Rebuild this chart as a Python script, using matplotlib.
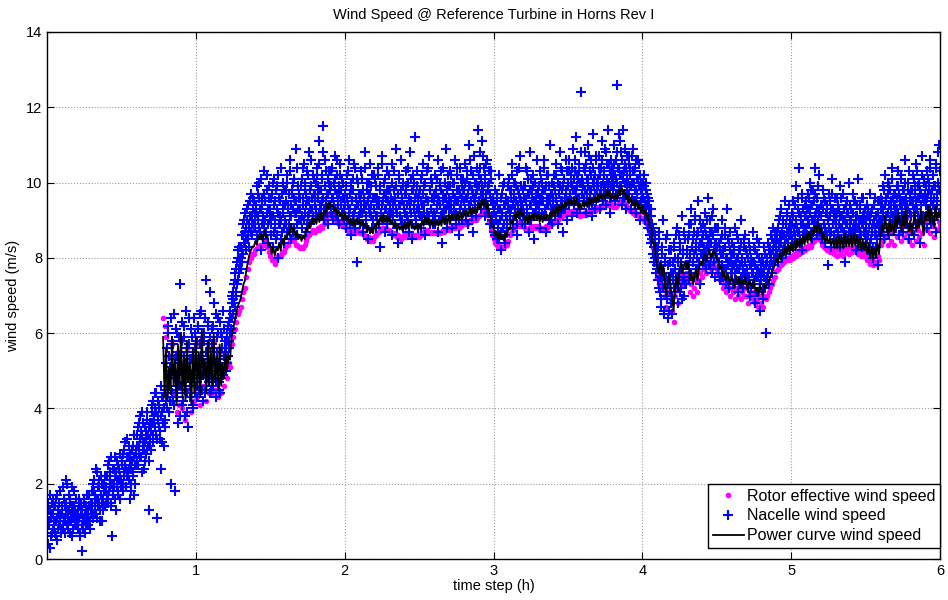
import numpy as np
import matplotlib
matplotlib.use("Agg")
import matplotlib.pyplot as plt

plt.rcParams['font.family'] = ['Liberation Sans', 'DejaVu Sans']

# power curve wind speed, every 0.01 h from 0.78 h to 6.0 h
power_curve = [
    5.9, 4.3,
    5.6, 4.2, 5.1, 4.4, 5.9, 4.6, 5.3, 4.1, 5.7, 4.5,
    6.0, 4.3, 5.4, 4.2, 5.8, 4.7, 5.2, 4.1, 5.6, 4.4,
    5.9, 4.5, 5.5, 4.3, 6.1, 4.8, 5.3, 4.4, 5.8, 4.6,
    5.6, 4.6, 6.0, 4.7, 5.4, 4.5, 5.7, 4.6, 5.2, 4.8,
    5.5, 5.0, 5.4, 5.3, 5.9, 6.1, 6.3, 6.5, 6.7, 6.8,
    6.9, 7.1, 7.3, 7.4, 7.7, 7.9, 8.1, 8.2, 8.3, 8.3,
    8.45, 8.35, 8.6, 8.5, 8.65, 8.45, 8.75, 8.55, 8.6, 8.35,
    8.35, 8.1, 8.3, 8.05, 8.25, 8.2, 8.4, 8.2, 8.5, 8.35,
    8.6, 8.5, 8.7, 8.6, 8.9, 8.7, 8.8, 8.55, 8.7, 8.5,
    8.6, 8.45, 8.6, 8.5, 8.8, 8.7, 8.95, 8.8, 9.05, 8.9,
    9.05, 8.9, 9.15, 8.95, 9.2, 9.0, 9.25, 9.15, 9.45, 9.3,
    9.5, 9.35, 9.4, 9.25, 9.35, 9.15, 9.25, 9.1, 9.2, 9.0,
    9.2, 9.0, 9.1, 8.9, 9.05, 8.85, 9.05, 8.85, 9.05, 8.9,
    9.0, 8.85, 9.0, 8.8, 8.9, 8.7, 8.85, 8.65, 8.8, 8.65,
    8.9, 8.75, 9.0, 8.85, 9.1, 8.95, 9.15, 8.95, 9.1, 8.95,
    9.1, 8.9, 9.0, 8.8, 8.95, 8.75, 8.9, 8.75, 8.85, 8.7,
    8.95, 8.75, 8.95, 8.8, 9.0, 8.8, 8.9, 8.75, 8.9, 8.75,
    8.9, 8.75, 9.0, 8.85, 9.1, 8.9, 9.05, 8.85, 9.0, 8.85,
    9.0, 8.85, 9.0, 8.85, 9.0, 8.85, 9.1, 8.9, 9.1, 8.9,
    9.15, 8.95, 9.15, 9.0, 9.15, 9.0, 9.2, 9.0, 9.2, 9.05,
    9.25, 9.1, 9.25, 9.1, 9.35, 9.15, 9.35, 9.2, 9.35, 9.2,
    9.45, 9.3, 9.55, 9.4, 9.55, 9.3, 9.5, 9.15, 9.1, 8.8,
    8.85, 8.6, 8.7, 8.5, 8.7, 8.5, 8.6, 8.45, 8.7, 8.55,
    8.8, 8.75, 9.0, 8.9, 9.15, 9.0, 9.25, 9.05, 9.3, 9.1,
    9.2, 8.95, 9.1, 8.9, 9.15, 9.0, 9.15, 9.0, 9.2, 9.0,
    9.15, 8.95, 9.15, 8.95, 9.15, 9.0, 9.15, 9.0, 9.2, 9.05,
    9.3, 9.1, 9.35, 9.15, 9.4, 9.25, 9.45, 9.3, 9.5, 9.35,
    9.55, 9.4, 9.55, 9.4, 9.6, 9.4, 9.6, 9.3, 9.45, 9.3,
    9.5, 9.35, 9.5, 9.35, 9.6, 9.4, 9.6, 9.45, 9.6, 9.45,
    9.7, 9.5, 9.7, 9.55, 9.7, 9.55, 9.8, 9.6, 9.8, 9.55,
    9.7, 9.55, 9.7, 9.55, 9.8, 9.65, 9.9, 9.7, 9.8, 9.55,
    9.7, 9.45, 9.6, 9.4, 9.55, 9.3, 9.55, 9.3, 9.45, 9.2,
    9.4, 9.15, 9.3, 9.05, 9.15, 8.8, 8.8, 8.4, 8.4, 8.0,
    7.8, 7.6, 7.9, 7.5, 7.8, 7.3, 7.0, 7.4, 7.6, 7.2,
    6.9, 6.6, 7.3, 7.5, 7.1, 7.7, 7.9, 7.6, 7.8, 7.9,
    7.7, 7.9, 7.4, 7.6, 7.3, 7.5, 7.7, 7.4, 7.7, 7.9,
    7.8, 8.0, 8.1, 7.9, 8.1, 8.2, 8.0, 8.1, 8.2, 8.05,
    8.0, 7.9, 7.7, 7.8, 7.5, 7.6, 7.4, 7.6, 7.5, 7.3,
    7.5, 7.4, 7.2, 7.5, 7.3, 7.5, 7.2, 7.4, 7.3, 7.5,
    7.3, 7.1, 7.4, 7.3, 7.2, 7.4, 7.1, 7.2, 7.0, 7.3,
    7.1, 7.0, 7.3, 7.2, 7.3, 7.4, 7.5, 7.6, 7.7, 7.8,
    8.0, 7.85, 8.1, 7.95, 8.2, 8.05, 8.3, 8.1, 8.35, 8.1,
    8.4, 8.2, 8.45, 8.2, 8.5, 8.3, 8.55, 8.3, 8.6, 8.35,
    8.65, 8.4, 8.7, 8.45, 8.75, 8.6, 8.85, 8.7, 8.95, 8.65,
    8.8, 8.5, 8.65, 8.4, 8.55, 8.4, 8.5, 8.35, 8.5, 8.25,
    8.55, 8.25, 8.6, 8.3, 8.55, 8.25, 8.65, 8.3, 8.6, 8.3,
    8.6, 8.3, 8.65, 8.35, 8.6, 8.25, 8.55, 8.2, 8.5, 8.2,
    8.45, 8.1, 8.4, 8.0, 8.3, 7.95, 8.25, 8.0, 8.4, 8.1,
    8.6, 8.9, 8.7, 9.1, 8.8, 8.6, 9.0, 8.7, 8.9, 8.6,
    9.1, 8.8, 9.2, 8.9, 8.7, 9.1, 8.8, 9.3, 8.9, 8.7,
    9.0, 8.6, 8.9, 9.2, 8.7, 9.0, 8.8, 9.3, 8.9, 8.6,
    9.2, 9.0, 9.4, 8.9, 9.3, 9.1, 8.8, 9.4, 9.0, 9.2,
    9.1,
]

# rotor effective wind speed, every 0.01 h from 0.78 h to 6.0 h
rotor_effective = [
    6.4, 6.2,
    5.9, 4.6, 5.4, 4.2, 5.7, 4.4, 5.0, 3.9, 5.5, 4.1,
    5.8, 4.0, 5.2, 3.7, 5.6, 4.5, 5.0, 3.9, 5.4, 4.2,
    5.7, 4.3, 5.3, 4.1, 5.9, 4.6, 5.1, 4.2, 5.6, 4.4,
    5.4, 4.4, 5.8, 4.5, 5.2, 4.3, 5.5, 4.4, 5.0, 4.6,
    5.3, 4.8, 5.2, 5.1, 5.7, 5.9, 6.1, 6.3, 6.5, 6.6,
    6.7, 6.9, 7.1, 7.2, 7.5, 7.7, 7.9, 8.0, 8.1, 8.1,
    8.2, 8.25, 8.3, 8.35, 8.3, 8.35, 8.45, 8.35, 8.3, 8.15,
    8.05, 7.95, 7.95, 7.85, 7.95, 8.05, 8.05, 8.05, 8.15, 8.15,
    8.25, 8.35, 8.35, 8.45, 8.55, 8.5, 8.45, 8.35, 8.35, 8.3,
    8.25, 8.3, 8.25, 8.35, 8.45, 8.55, 8.6, 8.65, 8.7, 8.75,
    8.7, 8.75, 8.8, 8.75, 8.85, 8.8, 8.9, 9.0, 9.1, 9.15,
    9.2, 9.15, 9.05, 9.1, 9.0, 8.95, 8.9, 8.95, 8.85, 8.85,
    8.9, 8.8, 8.75, 8.7, 8.75, 8.65, 8.7, 8.65, 8.75, 8.7,
    8.65, 8.7, 8.65, 8.6, 8.55, 8.5, 8.55, 8.45, 8.5, 8.45,
    8.55, 8.6, 8.65, 8.7, 8.75, 8.8, 8.8, 8.75, 8.8, 8.75,
    8.75, 8.7, 8.65, 8.6, 8.65, 8.55, 8.6, 8.55, 8.5, 8.55,
    8.6, 8.55, 8.65, 8.6, 8.65, 8.6, 8.55, 8.6, 8.55, 8.6,
    8.55, 8.6, 8.65, 8.7, 8.75, 8.75, 8.7, 8.65, 8.7, 8.65,
    8.7, 8.65, 8.65, 8.7, 8.65, 8.7, 8.75, 8.7, 8.75, 8.75,
    8.8, 8.75, 8.8, 8.85, 8.8, 8.85, 8.85, 8.8, 8.85, 8.9,
    8.9, 8.95, 8.9, 8.95, 9.0, 8.95, 9.0, 9.05, 9.0, 9.05,
    9.1, 9.15, 9.2, 9.25, 9.2, 9.15, 9.15, 8.95, 8.75, 8.6,
    8.5, 8.4, 8.35, 8.3, 8.35, 8.3, 8.25, 8.3, 8.35, 8.35,
    8.45, 8.6, 8.65, 8.75, 8.8, 8.85, 8.9, 8.85, 8.95, 8.9,
    8.85, 8.8, 8.75, 8.75, 8.8, 8.85, 8.8, 8.85, 8.8, 8.85,
    8.8, 8.75, 8.8, 8.75, 8.8, 8.85, 8.8, 8.85, 8.85, 8.9,
    8.95, 8.95, 9.0, 9.0, 9.05, 9.1, 9.1, 9.15, 9.15, 9.2,
    9.2, 9.25, 9.2, 9.25, 9.25, 9.2, 9.25, 9.15, 9.1, 9.15,
    9.15, 9.2, 9.15, 9.2, 9.25, 9.2, 9.25, 9.3, 9.25, 9.3,
    9.35, 9.3, 9.35, 9.4, 9.35, 9.4, 9.45, 9.4, 9.45, 9.4,
    9.35, 9.4, 9.35, 9.4, 9.45, 9.5, 9.55, 9.55, 9.45, 9.4,
    9.35, 9.3, 9.25, 9.25, 9.2, 9.15, 9.2, 9.15, 9.1, 9.05,
    9.05, 9.0, 8.95, 8.9, 8.8, 8.65, 8.45, 8.25, 8.05, 7.85,
    7.5, 7.3, 7.6, 7.2, 7.5, 7.0, 6.7, 7.1, 7.3, 6.9,
    6.6, 6.3, 7.0, 7.2, 6.8, 7.4, 7.6, 7.3, 7.5, 7.6,
    7.4, 7.6, 7.1, 7.3, 7.0, 7.2, 7.4, 7.1, 7.4, 7.6,
    7.5, 7.7, 7.8, 7.6, 7.8, 7.9, 7.7, 7.8, 7.9, 7.75,
    7.7, 7.6, 7.4, 7.5, 7.2, 7.3, 7.1, 7.3, 7.2, 7.0,
    7.2, 7.1, 6.9, 7.2, 7.0, 7.2, 6.9, 7.1, 7.0, 7.2,
    7.0, 6.8, 7.1, 7.0, 6.9, 7.1, 6.8, 6.9, 6.7, 7.0,
    6.8, 6.7, 7.0, 6.9, 7.0, 7.1, 7.2, 7.3, 7.4, 7.5,
    7.65, 7.7, 7.75, 7.8, 7.85, 7.9, 7.95, 7.95, 8.0, 7.95,
    8.05, 8.0, 8.1, 8.05, 8.15, 8.1, 8.2, 8.15, 8.25, 8.2,
    8.3, 8.25, 8.35, 8.3, 8.4, 8.45, 8.5, 8.55, 8.6, 8.5,
    8.45, 8.35, 8.3, 8.25, 8.2, 8.25, 8.15, 8.2, 8.15, 8.1,
    8.2, 8.05, 8.25, 8.1, 8.2, 8.05, 8.3, 8.15, 8.25, 8.1,
    8.25, 8.15, 8.3, 8.2, 8.25, 8.1, 8.2, 8.05, 8.15, 8.05,
    8.1, 7.95, 8.05, 7.85, 7.95, 7.8, 7.9, 7.85, 8.05, 7.95,
    8.35, 8.65, 8.45, 8.85, 8.55, 8.35, 8.75, 8.45, 8.65, 8.35,
    8.85, 8.55, 8.95, 8.65, 8.45, 8.85, 8.55, 9.05, 8.65, 8.45,
    8.75, 8.35, 8.65, 8.95, 8.45, 8.75, 8.55, 9.05, 8.65, 8.35,
    8.95, 8.75, 9.15, 8.65, 9.05, 8.85, 8.55, 9.15, 8.75, 8.95,
    8.85,
]

# nacelle wind speed, one row per 0.1 h (first pass of samples)
nacelle_a = [
    [1.1, 0.4, 1.3, 0.9, 1.7, 0.6, 1.2, 1.5, 0.8, 1.0, 1.4, 0.7, 1.6, 0.5, 1.1, 1.3, 0.9, 1.8, 1.2, 0.8],
    [1.4, 0.9, 1.9, 1.1, 0.7, 1.5, 1.2, 2.0, 0.8, 1.3, 1.0, 1.6, 1.2, 0.6, 1.4, 1.1, 1.8, 0.9, 1.3, 1.0],
    [0.9, 1.3, 1.0, 1.6, 0.7, 1.2, 1.4, 0.2, 1.1, 0.8, 1.5, 1.0, 1.3, 0.9, 1.7, 1.2, 1.0, 1.4, 0.8, 1.5],
    [1.3, 1.8, 1.1, 2.1, 1.5, 1.7, 1.2, 2.3, 1.6, 1.4, 1.9, 1.0, 1.7, 2.2, 1.5, 1.3, 1.8, 2.0, 1.4, 1.9],
    [1.7, 2.2, 1.5, 2.6, 1.9, 2.1, 1.4, 0.6, 2.4, 1.8, 2.0, 2.7, 1.6, 2.3, 1.9, 2.5, 1.7, 2.1, 2.8, 2.0],
    [2.1, 2.6, 1.8, 2.9, 2.3, 2.5, 1.9, 3.2, 2.2, 2.7, 2.4, 1.6, 2.8, 2.0, 2.6, 3.0, 2.3, 1.7, 2.5, 2.9],
    [2.8, 3.3, 2.5, 3.6, 3.0, 2.7, 3.4, 2.3, 3.9, 3.1, 2.9, 3.5, 2.6, 3.2, 3.7, 2.9, 3.3, 1.3, 3.0, 3.6],
    [3.4, 3.9, 3.1, 4.2, 3.6, 4.0, 3.3, 4.4, 1.1, 3.8, 3.5, 4.1, 3.2, 2.4, 3.9, 4.3, 3.6, 3.0, 4.5, 3.7],
    [4.3, 5.6, 4.8, 6.2, 3.9, 5.1, 4.5, 2.0, 5.8, 4.2, 6.5, 4.9, 1.8, 5.4, 4.4, 6.0, 3.6, 5.2, 4.7, 7.3],
    [5.5, 4.1, 6.3, 4.7, 5.9, 3.8, 5.2, 6.6, 4.4, 5.0, 3.5, 5.7, 4.6, 6.1, 4.9, 5.3, 4.0, 6.4, 4.8, 5.6],
    [4.6, 5.8, 4.3, 6.2, 5.1, 4.8, 6.5, 5.4, 4.5, 5.9, 4.9, 6.0, 4.4, 5.5, 7.4, 5.0, 6.3, 4.7, 5.7, 7.1],
    [5.2, 4.5, 6.1, 5.6, 4.8, 6.8, 5.0, 4.3, 5.9, 5.3, 6.4, 4.7, 5.5, 4.4, 6.0, 5.1, 4.9, 6.6, 5.4, 5.8],
    [5.6, 5.0, 6.0, 5.4, 6.3, 5.8, 6.6, 6.1, 7.0, 6.4, 6.9, 7.3, 6.7, 7.6, 7.1, 7.9, 7.4, 8.2, 7.6, 8.0],
    [7.7, 8.3, 7.9, 8.6, 8.1, 9.0, 8.4, 8.8, 8.2, 9.3, 8.5, 8.9, 8.3, 9.5, 8.7, 9.1, 8.6, 9.6, 8.9, 9.2],
    [8.8, 9.4, 8.5, 9.7, 9.0, 10.0, 8.7, 9.3, 8.2, 9.6, 9.1, 10.3, 8.9, 9.5, 8.6, 9.8, 9.2, 8.4, 9.9, 9.0],
    [9.3, 8.6, 9.7, 8.3, 9.1, 10.1, 8.8, 9.5, 8.5, 9.9, 9.2, 8.0, 9.6, 8.9, 10.4, 9.0, 8.7, 9.4, 8.4, 9.8],
    [9.0, 9.8, 8.7, 10.2, 9.4, 8.9, 10.6, 9.1, 8.5, 9.7, 9.3, 10.0, 8.8, 9.5, 10.9, 9.2, 8.6, 9.9, 9.0, 9.6],
    [9.6, 9.0, 10.1, 8.8, 9.4, 10.5, 9.2, 9.8, 8.7, 10.3, 9.5, 9.1, 10.8, 9.3, 8.9, 9.9, 9.6, 10.2, 9.0, 9.7],
    [9.4, 10.0, 9.1, 10.4, 9.7, 9.2, 11.1, 9.8, 9.3, 10.2, 9.5, 11.5, 9.0, 9.9, 10.6, 9.4, 9.7, 10.1, 8.9, 10.3],
    [9.8, 9.2, 10.3, 9.6, 9.0, 10.0, 9.4, 10.7, 9.1, 9.7, 10.2, 9.3, 8.9, 9.9, 10.5, 9.5, 9.2, 10.1, 9.6, 9.0],
    [9.1, 9.7, 8.8, 10.2, 9.4, 9.0, 10.6, 9.3, 8.6, 9.8, 9.5, 10.1, 8.9, 9.2, 10.4, 9.6, 7.9, 9.4, 10.0, 9.1],
    [9.6, 8.9, 10.3, 9.2, 9.8, 8.7, 9.5, 10.8, 9.0, 9.4, 10.0, 8.5, 9.7, 9.3, 10.5, 9.1, 9.9, 8.8, 9.6, 10.2],
    [9.3, 10.1, 8.8, 9.6, 9.1, 10.4, 9.4, 8.3, 9.9, 9.2, 10.7, 9.5, 9.0, 10.0, 8.7, 9.7, 9.3, 10.3, 9.1, 9.8],
    [10.2, 9.0, 9.6, 8.6, 10.5, 9.3, 9.8, 8.9, 9.5, 10.9, 9.2, 9.7, 8.4, 10.1, 9.4, 9.0, 10.6, 9.6, 8.8, 9.9],
    [9.4, 8.9, 10.3, 9.7, 9.1, 10.0, 8.7, 9.5, 10.8, 9.2, 9.8, 8.5, 10.2, 9.3, 9.6, 11.2, 9.0, 9.9, 8.8, 9.5],
    [9.7, 9.1, 10.1, 8.8, 9.4, 10.5, 9.2, 9.9, 8.6, 9.6, 10.3, 9.0, 9.5, 10.7, 8.9, 9.8, 9.3, 10.0, 9.1, 9.6],
    [9.2, 10.2, 8.9, 9.7, 9.4, 10.6, 8.7, 9.5, 10.0, 9.1, 9.8, 8.4, 10.4, 9.3, 9.6, 9.0, 10.9, 9.4, 8.8, 9.9],
    [9.6, 9.0, 10.3, 9.3, 8.8, 10.0, 9.7, 9.2, 10.6, 8.9, 9.5, 10.2, 9.1, 9.8, 8.6, 10.4, 9.4, 9.9, 9.0, 10.1],
    [9.8, 9.3, 10.5, 9.0, 10.1, 9.6, 8.9, 11.0, 9.4, 9.9, 10.3, 9.2, 9.7, 8.7, 10.7, 9.5, 10.0, 9.1, 9.8, 11.4],
    [10.2, 9.5, 10.8, 9.3, 9.9, 11.1, 9.6, 10.4, 9.1, 10.0, 9.7, 10.6, 9.2, 9.8, 10.3, 8.9, 9.5, 10.1, 9.0, 9.4],
    [9.2, 8.7, 9.8, 9.0, 8.5, 9.5, 8.9, 10.2, 8.6, 9.3, 8.2, 9.7, 9.1, 8.8, 10.0, 9.4, 8.4, 9.6, 9.0, 9.9],
    [9.5, 10.1, 9.0, 9.8, 9.3, 10.5, 8.8, 9.6, 10.0, 9.2, 9.9, 8.6, 10.3, 9.4, 9.7, 9.1, 10.7, 9.5, 8.9, 9.8],
    [9.3, 9.9, 8.9, 10.4, 9.6, 9.1, 10.1, 8.7, 9.7, 10.8, 9.4, 9.0, 9.8, 10.2, 9.2, 8.5, 10.0, 9.5, 9.1, 10.6],
    [9.7, 9.2, 10.3, 8.8, 9.5, 10.0, 9.1, 9.8, 10.6, 9.3, 8.7, 9.9, 9.4, 10.2, 9.0, 9.6, 11.0, 9.3, 8.9, 9.7],
    [9.6, 10.2, 9.1, 9.8, 10.5, 9.4, 8.9, 10.0, 9.7, 10.8, 9.2, 9.5, 10.3, 8.7, 9.9, 10.1, 9.3, 10.6, 9.6, 9.0],
    [10.0, 9.4, 10.6, 9.7, 10.2, 9.1, 9.9, 10.9, 9.5, 10.3, 9.8, 11.2, 9.2, 10.1, 9.6, 10.5, 9.3, 10.0, 12.4, 9.7],
    [9.9, 10.4, 9.5, 10.8, 9.2, 10.1, 9.7, 11.0, 9.4, 10.3, 9.8, 10.6, 9.1, 10.0, 11.3, 9.6, 10.2, 9.3, 10.7, 9.9],
    [10.1, 9.6, 10.7, 9.3, 10.4, 9.9, 11.1, 9.5, 10.2, 9.8, 10.9, 9.4, 10.5, 10.0, 11.4, 9.7, 10.3, 9.2, 10.6, 10.0],
    [10.3, 9.8, 11.0, 9.5, 10.6, 10.1, 12.6, 9.7, 10.4, 11.3, 9.9, 10.8, 9.4, 10.2, 11.4, 9.6, 10.5, 10.0, 9.3, 10.7],
    [10.2, 9.6, 10.7, 9.9, 10.4, 9.3, 10.0, 10.9, 9.5, 10.3, 9.8, 9.2, 10.6, 9.7, 10.1, 9.4, 10.5, 9.0, 9.8, 9.6],
    [9.8, 9.3, 10.2, 9.5, 9.0, 10.0, 9.4, 8.8, 9.6, 9.1, 8.6, 9.3, 8.4, 8.9, 8.1, 8.7, 7.9, 8.4, 7.6, 8.2],
    [7.7, 8.3, 7.2, 8.7, 7.5, 6.9, 8.1, 7.4, 9.0, 6.6, 7.9, 7.3, 8.5, 7.0, 6.4, 7.8, 8.2, 7.1, 7.6, 6.8],
    [6.5, 7.6, 8.4, 7.2, 8.0, 7.5, 8.8, 7.3, 7.9, 8.6, 7.1, 8.2, 7.7, 9.1, 7.4, 8.1, 7.0, 8.5, 7.8, 7.3],
    [7.8, 8.5, 7.4, 8.9, 8.1, 7.6, 9.3, 8.3, 7.9, 8.7, 7.5, 9.0, 8.2, 7.7, 8.6, 9.5, 7.9, 8.4, 7.3, 8.8],
    [8.4, 7.9, 8.9, 8.1, 9.2, 7.7, 8.6, 8.3, 9.6, 7.8, 8.5, 9.0, 8.0, 8.7, 7.6, 9.3, 8.2, 8.8, 7.5, 8.4],
    [8.3, 7.6, 8.8, 7.9, 7.4, 8.5, 8.1, 9.0, 7.5, 8.2, 7.7, 8.6, 7.3, 8.0, 9.3, 7.8, 8.4, 7.2, 8.7, 7.9],
    [7.8, 8.4, 7.3, 8.1, 7.6, 8.8, 7.4, 8.0, 7.1, 8.5, 7.7, 8.2, 7.5, 9.0, 7.9, 7.2, 8.3, 7.6, 8.6, 7.4],
    [7.5, 8.1, 7.2, 8.4, 7.8, 7.0, 8.0, 7.6, 8.7, 7.3, 7.9, 6.8, 8.2, 7.5, 8.5, 7.7, 7.1, 8.0, 6.6, 7.8],
    [7.4, 8.0, 6.9, 7.7, 8.3, 7.2, 6.0, 7.9, 7.5, 8.4, 7.3, 8.1, 7.8, 8.6, 7.6, 8.2, 8.8, 7.9, 8.5, 8.1],
    [8.2, 8.7, 7.9, 9.0, 8.4, 8.1, 9.3, 8.6, 8.0, 8.9, 8.3, 9.5, 8.5, 8.1, 9.1, 8.7, 8.4, 9.4, 8.8, 8.2],
    [8.6, 9.2, 8.3, 9.5, 8.8, 8.5, 9.9, 8.9, 8.4, 9.3, 8.7, 10.4, 8.5, 9.1, 8.2, 9.6, 8.9, 8.6, 9.4, 8.8],
    [9.1, 8.6, 9.7, 8.9, 9.3, 10.0, 8.7, 9.4, 8.5, 9.8, 9.0, 8.8, 10.4, 9.2, 8.6, 9.6, 8.9, 10.2, 9.3, 8.7],
    [8.8, 9.4, 8.5, 9.8, 8.9, 8.4, 9.5, 8.7, 9.2, 7.8, 9.0, 9.7, 8.6, 9.3, 8.3, 10.1, 8.9, 9.1, 8.5, 9.6],
    [9.0, 8.5, 9.6, 8.7, 9.3, 8.3, 9.9, 8.8, 9.1, 8.4, 9.7, 8.6, 7.9, 9.4, 8.9, 9.2, 8.5, 10.0, 8.7, 9.0],
    [8.7, 9.3, 8.4, 9.7, 8.9, 8.6, 9.5, 8.2, 9.1, 8.8, 10.1, 8.5, 9.4, 8.7, 9.0, 8.3, 9.6, 8.9, 9.2, 8.6],
    [8.9, 8.4, 9.4, 8.6, 9.1, 8.2, 9.7, 8.5, 8.8, 9.3, 8.0, 9.0, 8.6, 9.6, 8.3, 8.9, 7.8, 9.2, 8.7, 9.5],
    [9.0, 9.6, 8.7, 9.9, 9.3, 8.5, 10.2, 9.1, 9.5, 8.8, 10.0, 9.4, 8.6, 9.8, 9.2, 10.4, 8.9, 9.6, 9.0, 9.7],
    [9.4, 8.8, 9.9, 9.2, 10.3, 8.6, 9.6, 9.0, 10.1, 9.3, 8.7, 9.8, 9.5, 10.6, 8.9, 9.4, 9.1, 10.0, 8.5, 9.7],
    [9.2, 9.8, 8.8, 10.2, 9.5, 8.6, 9.9, 9.3, 10.5, 8.9, 9.6, 9.1, 10.0, 8.4, 9.7, 9.4, 10.7, 9.0, 9.5, 10.1],
    [9.6, 9.1, 10.3, 8.8, 9.7, 10.0, 9.3, 10.6, 8.9, 9.8, 9.4, 10.2, 9.0, 9.9, 10.4, 8.7, 9.5, 10.8, 9.2, 11.0],
]

# nacelle wind speed, samples in between (offset by half a step)
nacelle_b = [
    [0.8, 1.5, 1.0, 0.3, 1.3, 1.1, 0.7, 1.6, 1.2, 0.9, 1.4, 0.6, 1.0, 1.7, 0.8, 1.2, 1.5, 1.0, 0.7, 1.3],
    [1.2, 0.8, 1.6, 1.0, 1.4, 2.1, 0.9, 1.3, 1.1, 1.7, 0.7, 1.5, 1.0, 1.9, 1.2, 0.8, 1.4, 1.1, 1.6, 0.9],
    [1.2, 0.8, 1.4, 1.1, 0.6, 1.5, 0.9, 1.3, 1.0, 1.6, 1.2, 0.7, 1.4, 1.1, 0.9, 1.3, 1.7, 1.0, 1.2, 1.4],
    [1.5, 2.0, 1.2, 1.8, 1.4, 2.4, 1.6, 1.1, 1.9, 1.5, 2.1, 1.3, 1.7, 1.0, 2.0, 1.6, 1.4, 2.2, 1.8, 1.5],
    [2.2, 1.6, 2.5, 1.8, 2.3, 1.5, 2.7, 2.0, 1.7, 2.4, 1.9, 2.2, 1.3, 2.6, 2.1, 1.8, 2.4, 1.6, 2.2, 1.9],
    [2.5, 2.0, 2.8, 2.2, 3.1, 2.4, 1.9, 2.7, 2.3, 3.0, 2.1, 2.6, 2.4, 1.8, 2.9, 2.2, 2.7, 3.3, 2.0, 2.5],
    [3.0, 2.6, 3.5, 2.8, 3.2, 3.8, 2.7, 3.3, 2.9, 3.6, 2.4, 3.1, 3.4, 2.8, 3.9, 3.0, 2.6, 3.5, 3.2, 2.9],
    [3.6, 4.1, 3.3, 3.8, 4.4, 3.5, 3.9, 3.2, 4.2, 3.7, 4.0, 3.4, 4.6, 3.8, 3.1, 4.3, 3.6, 4.0, 3.5, 4.2],
    [5.2, 4.0, 6.0, 4.6, 5.4, 4.2, 6.4, 5.0, 4.4, 5.7, 4.1, 5.3, 4.8, 6.1, 4.3, 5.5, 4.6, 5.9, 3.8, 5.0],
    [4.6, 5.8, 4.2, 5.4, 6.2, 4.5, 5.1, 3.9, 5.6, 4.8, 6.4, 4.3, 5.3, 4.7, 5.9, 4.1, 5.5, 4.9, 6.0, 4.4],
    [5.4, 4.7, 6.1, 5.0, 4.5, 5.7, 6.6, 4.9, 5.3, 4.2, 5.8, 5.1, 6.4, 4.6, 5.5, 4.8, 6.2, 5.2, 4.4, 5.9],
    [4.9, 5.7, 4.6, 6.2, 5.3, 5.0, 6.5, 4.7, 5.5, 6.0, 4.5, 5.2, 6.3, 4.8, 5.6, 5.9, 5.0, 6.1, 5.3, 5.6],
    [5.3, 5.8, 5.2, 6.2, 5.6, 6.0, 6.4, 6.0, 6.8, 6.5, 7.1, 6.8, 7.4, 7.0, 7.7, 7.3, 8.0, 7.7, 8.3, 7.9],
    [8.0, 8.6, 8.2, 8.9, 8.4, 8.7, 9.2, 8.5, 9.0, 8.6, 9.4, 8.8, 9.1, 8.7, 9.7, 8.9, 9.3, 8.8, 9.5, 9.0],
    [9.2, 8.6, 9.9, 9.1, 8.8, 9.6, 9.3, 10.1, 8.9, 9.4, 8.5, 9.7, 9.0, 9.5, 8.7, 10.2, 9.3, 8.9, 9.6, 9.2],
    [8.9, 9.6, 9.1, 10.0, 8.7, 9.4, 9.0, 9.8, 8.6, 9.3, 10.2, 8.9, 9.5, 9.1, 8.5, 9.7, 9.2, 10.0, 8.8, 9.4],
    [9.5, 8.9, 10.0, 9.3, 9.7, 8.8, 10.3, 9.4, 9.1, 9.8, 8.7, 9.6, 10.1, 9.2, 9.5, 8.9, 10.4, 9.3, 9.7, 9.0],
    [9.3, 9.9, 9.1, 10.4, 9.6, 9.0, 10.0, 9.4, 9.7, 8.9, 10.2, 9.5, 9.2, 9.8, 10.6, 9.3, 9.6, 9.1, 10.1, 9.5],
    [9.7, 9.3, 10.2, 9.6, 9.9, 10.5, 9.4, 9.8, 9.1, 10.1, 9.6, 10.8, 9.3, 9.9, 9.5, 10.3, 9.2, 9.7, 10.0, 9.4],
    [9.4, 9.9, 9.1, 10.4, 9.6, 9.3, 10.1, 9.8, 9.2, 10.6, 9.5, 9.0, 9.7, 10.2, 9.4, 9.8, 9.1, 10.0, 9.6, 9.3],
    [9.4, 9.9, 9.0, 9.6, 10.3, 9.2, 9.7, 8.9, 10.0, 9.5, 9.1, 9.8, 10.5, 9.3, 8.8, 9.6, 10.1, 9.4, 9.0, 9.7],
    [9.2, 9.7, 9.4, 10.1, 8.9, 9.6, 9.3, 10.4, 9.1, 9.8, 8.8, 9.5, 10.0, 9.2, 9.7, 9.4, 10.2, 9.0, 9.6, 9.3],
    [9.6, 9.1, 9.9, 9.4, 10.2, 8.9, 9.5, 9.8, 9.2, 10.5, 9.4, 9.0, 9.7, 9.3, 10.1, 9.6, 8.9, 9.8, 9.5, 9.2],
    [9.4, 9.8, 9.2, 10.0, 9.5, 9.1, 10.3, 9.6, 9.3, 9.9, 8.8, 9.7, 9.4, 10.2, 9.1, 9.8, 9.5, 9.0, 10.0, 9.3],
    [9.7, 9.2, 9.9, 9.4, 10.4, 9.0, 9.6, 9.3, 10.1, 9.5, 8.9, 9.8, 9.4, 10.0, 9.1, 9.7, 9.3, 10.3, 9.6, 9.2],
    [9.3, 9.8, 9.5, 10.2, 9.1, 9.7, 9.4, 9.0, 10.0, 9.6, 9.2, 10.4, 9.5, 9.1, 9.8, 9.3, 10.1, 9.6, 8.9, 9.7],
    [9.5, 9.1, 9.8, 9.3, 10.1, 9.6, 9.0, 9.9, 9.4, 10.3, 9.2, 9.7, 9.5, 9.1, 10.0, 9.6, 9.3, 9.8, 10.2, 9.4],
    [9.3, 9.9, 9.5, 10.2, 9.1, 9.7, 9.4, 10.0, 9.6, 9.2, 9.8, 10.4, 9.5, 9.0, 9.7, 9.3, 10.1, 9.6, 9.2, 9.8],
    [9.5, 10.0, 9.6, 9.2, 10.3, 9.7, 9.4, 9.9, 10.6, 9.5, 9.1, 9.8, 10.2, 9.6, 9.3, 10.0, 9.7, 10.4, 9.4, 9.9],
    [9.9, 10.4, 9.7, 10.1, 9.5, 10.7, 9.8, 9.4, 10.2, 9.6, 10.5, 9.3, 9.9, 10.0, 9.2, 9.7, 10.3, 9.5, 9.1, 9.6],
    [8.9, 9.4, 8.6, 9.1, 9.7, 8.8, 9.3, 8.5, 9.0, 9.6, 8.7, 9.2, 9.9, 8.9, 9.4, 8.6, 9.1, 9.5, 8.8, 9.3],
    [9.3, 9.8, 9.1, 9.6, 10.2, 9.4, 9.0, 9.7, 9.3, 10.0, 9.5, 8.9, 9.8, 9.2, 10.4, 9.6, 9.3, 9.9, 9.4, 9.1],
    [9.6, 9.2, 9.9, 9.5, 10.3, 9.3, 9.7, 9.0, 9.8, 9.4, 10.1, 9.6, 9.2, 9.9, 9.5, 10.0, 9.3, 9.7, 9.4, 9.8],
    [9.4, 9.9, 9.6, 10.1, 9.2, 9.7, 9.5, 10.4, 9.3, 9.8, 9.1, 9.6, 10.2, 9.4, 9.9, 9.5, 9.0, 9.7, 10.0, 9.4],
    [9.5, 9.9, 9.3, 10.2, 9.6, 9.4, 10.0, 9.7, 9.2, 9.9, 10.4, 9.5, 9.8, 9.3, 10.1, 9.6, 9.4, 9.8, 10.3, 9.5],
    [9.9, 10.3, 9.6, 10.0, 9.5, 10.4, 9.8, 10.1, 9.4, 10.6, 9.7, 10.2, 9.9, 9.5, 10.3, 9.6, 10.0, 10.8, 9.7, 10.1],
    [10.0, 9.6, 10.3, 9.8, 10.5, 9.5, 10.1, 9.9, 10.7, 9.6, 10.2, 9.8, 9.4, 10.4, 9.9, 10.1, 9.7, 10.6, 9.8, 10.0],
    [9.9, 10.4, 9.7, 10.2, 9.8, 10.6, 10.0, 9.6, 10.3, 9.9, 10.8, 9.7, 10.1, 9.8, 10.5, 10.0, 9.6, 10.2, 9.9, 10.4],
    [10.1, 9.9, 10.5, 10.2, 9.7, 10.8, 10.0, 10.4, 9.8, 11.1, 10.2, 9.9, 10.6, 10.1, 9.6, 10.3, 10.9, 10.0, 10.4, 9.8],
    [10.0, 10.5, 9.7, 10.2, 9.9, 10.7, 9.6, 10.3, 10.0, 9.5, 10.4, 9.8, 10.1, 9.4, 10.6, 9.9, 10.2, 9.5, 10.0, 9.7],
    [10.0, 9.6, 9.9, 9.4, 9.8, 9.2, 9.7, 9.0, 9.5, 9.3, 8.9, 9.1, 8.7, 8.5, 8.8, 8.3, 8.6, 8.0, 8.3, 7.8],
    [8.0, 7.4, 8.5, 7.1, 7.8, 6.7, 8.3, 7.2, 7.6, 6.5, 8.0, 7.5, 6.9, 8.6, 7.3, 6.6, 7.9, 7.4, 8.2, 7.0],
    [7.9, 7.4, 8.3, 7.1, 7.7, 8.6, 7.5, 6.8, 8.0, 7.6, 8.4, 7.2, 7.9, 6.9, 8.2, 7.5, 8.7, 7.3, 7.8, 8.1],
    [8.2, 7.8, 8.6, 8.0, 7.6, 8.9, 8.3, 7.9, 8.5, 8.1, 9.1, 7.7, 8.4, 8.0, 8.7, 7.8, 8.3, 9.0, 8.1, 8.5],
    [8.1, 8.6, 8.3, 7.9, 8.8, 8.2, 9.0, 8.0, 8.5, 8.3, 7.8, 8.7, 8.4, 9.1, 8.1, 8.6, 7.9, 8.4, 8.8, 8.2],
    [8.0, 7.7, 8.4, 7.9, 8.2, 7.5, 8.6, 7.8, 8.1, 7.6, 8.3, 8.8, 7.7, 8.0, 7.4, 8.5, 7.9, 8.2, 7.6, 8.1],
    [7.6, 8.1, 7.8, 8.3, 7.4, 7.9, 8.6, 7.7, 8.0, 7.3, 8.2, 7.8, 8.4, 7.5, 8.0, 7.7, 8.5, 7.6, 7.9, 8.2],
    [7.7, 7.3, 8.0, 7.5, 8.2, 7.8, 7.2, 7.9, 7.6, 8.3, 7.4, 7.8, 7.1, 8.1, 7.7, 7.5, 8.4, 7.6, 7.3, 7.9],
    [7.6, 7.2, 7.9, 7.5, 8.1, 7.4, 7.8, 8.0, 7.6, 8.2, 7.7, 8.3, 7.9, 8.1, 8.5, 7.8, 8.4, 8.0, 8.7, 8.3],
    [8.5, 8.1, 8.8, 8.3, 8.6, 9.1, 8.4, 8.7, 8.2, 9.0, 8.6, 8.3, 8.9, 8.5, 9.2, 8.4, 8.8, 8.6, 9.0, 8.7],
    [8.9, 8.5, 9.1, 8.7, 9.4, 8.6, 9.0, 8.8, 9.6, 8.7, 9.2, 8.4, 9.0, 8.9, 9.7, 8.6, 9.3, 8.8, 9.1, 9.5],
    [8.8, 9.3, 9.0, 9.6, 8.9, 9.2, 9.8, 9.0, 9.4, 8.7, 9.5, 9.1, 9.7, 8.9, 9.3, 9.0, 9.9, 9.2, 8.8, 9.4],
    [9.1, 8.7, 9.3, 8.9, 9.6, 8.8, 9.2, 8.6, 9.4, 9.0, 8.8, 9.5, 9.1, 8.7, 9.7, 8.9, 9.3, 8.6, 9.0, 9.2],
    [8.8, 9.2, 8.6, 9.4, 8.9, 9.1, 8.5, 9.6, 8.8, 9.0, 8.7, 9.3, 9.0, 8.6, 9.5, 8.9, 9.2, 8.7, 9.4, 8.8],
    [9.0, 8.6, 9.2, 8.8, 9.5, 8.7, 9.1, 8.9, 9.4, 8.5, 9.0, 8.8, 9.3, 8.6, 9.6, 8.9, 9.1, 8.7, 9.3, 9.0],
    [8.7, 9.1, 8.5, 9.3, 8.8, 9.0, 8.4, 9.2, 8.7, 8.9, 8.3, 9.4, 8.8, 8.6, 9.1, 8.5, 9.5, 8.9, 9.0, 8.8],
    [9.3, 8.9, 9.5, 9.1, 9.8, 9.0, 9.4, 9.6, 8.8, 9.7, 9.2, 9.9, 9.0, 9.5, 9.3, 10.1, 9.1, 9.4, 9.7, 9.2],
    [9.1, 9.6, 9.3, 9.9, 9.0, 9.7, 9.4, 10.2, 9.2, 9.5, 9.8, 9.1, 10.0, 9.4, 9.6, 8.9, 9.8, 9.3, 10.3, 9.5],
    [9.5, 9.1, 9.8, 9.4, 10.1, 9.2, 9.7, 9.5, 10.3, 9.3, 9.9, 9.6, 9.0, 9.8, 9.4, 10.2, 9.6, 9.1, 10.0, 9.7],
    [9.4, 9.9, 9.6, 10.1, 9.2, 9.8, 10.4, 9.5, 9.7, 9.0, 10.2, 9.6, 9.9, 9.3, 10.5, 9.7, 9.4, 10.0, 9.8, 10.3],
]

t_power = np.linspace(0.78, 6.0, len(power_curve))
t_rotor = np.linspace(0.78, 6.0, len(rotor_effective))


def row_times(rows, shift):
    return np.concatenate([0.1 * i + (np.arange(len(r)) + shift) * 0.1 / len(r) for i, r in enumerate(rows)])


t_nacelle = np.concatenate([row_times(nacelle_a, 0.0), row_times(nacelle_b, 0.5)])
v_nacelle = np.concatenate([np.concatenate(nacelle_a), np.concatenate(nacelle_b)])

fig = plt.figure(figsize=(9.48, 6.0), dpi=100)
ax = fig.add_axes([0.0496, 0.0683, 0.9420, 0.8784])

ax.plot(t_rotor, rotor_effective, linestyle='none', marker='.', color=(1, 0, 1),
        markersize=6, label='Rotor effective wind speed')
ax.plot(t_nacelle, v_nacelle, linestyle='none', marker='+', color=(0, 0, 1),
        markersize=6.5, markeredgewidth=1.5, label='Nacelle wind speed')
ax.plot(t_power, power_curve, color='k', linewidth=1.3, label='Power curve wind speed')

ax.set_xlim(0, 6)
ax.set_ylim(0, 14)
ax.set_xticks([1, 2, 3, 4, 5, 6])
ax.set_yticks(np.arange(0, 15, 2))
ax.grid(True, linestyle=':', color='#999999', linewidth=0.8)
ax.tick_params(direction='in', top=True, right=True, length=5, labelsize=10.5)
for s in ax.spines.values():
    s.set_linewidth(1.0)

ax.set_title('Wind Speed @ Reference Turbine in Horns Rev I', fontsize=10.5, pad=9)
ax.set_xlabel('time step (h)', fontsize=10.5, labelpad=1)
ax.set_ylabel('wind speed (m/s)', fontsize=10.5, labelpad=4)

leg = ax.legend(loc='lower right', bbox_to_anchor=(1.0, 0.021), fontsize=11.5,
                fancybox=False, framealpha=1, edgecolor='k', borderaxespad=0.0,
                handlelength=1.9, borderpad=0.3, labelspacing=0.3, handletextpad=0.2)
leg.get_frame().set_linewidth(1.0)

fig.savefig('out.png', dpi=100)
